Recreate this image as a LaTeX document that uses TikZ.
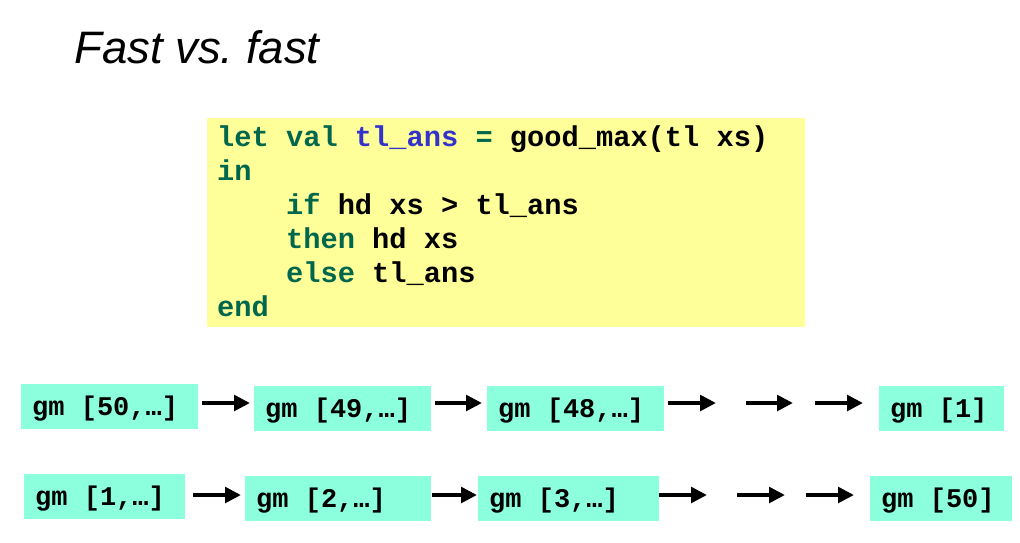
\documentclass[tikz,border=0pt]{standalone}
\usepackage{fontspec}
\usetikzlibrary{arrows.meta}
\setmainfont{Liberation Sans}
\newfontfamily\codefont{Liberation Mono}[BoldFont={Liberation Mono Bold}]
\definecolor{kwgreen}{RGB}{0,102,76}
\definecolor{idblue}{RGB}{51,51,204}
\definecolor{codeyellow}{RGB}{255,255,153}
\definecolor{callaqua}{RGB}{140,255,221}
\newcommand{\kw}[1]{\textcolor{kwgreen}{#1}}
\newcommand{\codeindent}{\hphantom{xxxx}}
\newcommand{\calltext}[2]{\makebox[#1][l]{#2}}
\tikzset{
  codeline/.style={anchor=base west, inner sep=0pt,
    font=\codefont\bfseries\fontsize{28.7}{34}\selectfont},
  callbox/.style={anchor=base west, fill=callaqua, inner xsep=11pt, inner ysep=0pt,
    text height=31pt, text depth=14pt,
    font=\codefont\bfseries\fontsize{27}{32}\selectfont},
  arr/.style={line width=4pt, -{Triangle[length=16pt,width=15.5pt]}}
}
\begin{document}
\begin{tikzpicture}[x=1pt,y=-1pt]
\useasboundingbox (0,0) rectangle (1020,542);

% title
\node[anchor=base west, inner sep=0pt, font=\itshape\fontsize{45.5}{50}\selectfont] (title) at (74,63) {Fast vs.\ fast};

% code block
\node[anchor=north west, fill=codeyellow, inner sep=0pt, minimum width=598pt, minimum height=209pt] (codebox) at (207,118) {};
\node[codeline] (l1) at (217,146) {\kw{let val} \textcolor{idblue}{tl\_ans} \kw{=} good\_max(tl xs)};
\node[codeline] (l2) at (217,180) {\kw{in}};
\node[codeline] (l3) at (217,214) {\codeindent\kw{if} hd xs > tl\_ans};
\node[codeline] (l4) at (217,248) {\codeindent\kw{then} hd xs};
\node[codeline] (l5) at (217,282) {\codeindent\kw{else} tl\_ans};
\node[codeline] (l6) at (217,316) {\kw{end}};

% first chain of calls
\node[callbox] (a1) at (21,415) {\calltext{155pt}{gm [50,…]}};
\node[callbox] (a2) at (254,417) {\calltext{155pt}{gm [49,…]}};
\node[callbox] (a3) at (487,417) {\calltext{155pt}{gm [48,…]}};
\node[callbox] (a4) at (879,417) {\calltext{103pt}{gm [1]}};
\coordinate (a3e) at (716,403);
\coordinate (amid1) at (746,403);
\coordinate (amid2) at (793,403);
\coordinate (amid3) at (815,403);
\draw[arr] ([xshift=4pt,yshift=12pt]a1.base east) -- ([xshift=-4pt,yshift=14pt]a2.base west);
\draw[arr] ([xshift=4pt,yshift=14pt]a2.base east) -- ([xshift=-5pt,yshift=14pt]a3.base west);
\draw[arr] ([xshift=4pt,yshift=14pt]a3.base east) -- (a3e);
\draw[arr] (amid1) -- (amid2);
\draw[arr] (amid3) -- ([xshift=-16pt,yshift=14pt]a4.base west);

% second chain of calls
\node[callbox] (b1) at (24,505) {\calltext{139pt}{gm [1,…]}};
\node[callbox] (b2) at (245,507) {\calltext{164pt}{gm [2,…]}};
\node[callbox] (b3) at (478,507) {\calltext{159pt}{gm [3,…]}};
\node[callbox] (b4) at (870,507) {\calltext{120pt}{gm [50]}};
\coordinate (b3e) at (707,495);
\coordinate (bmid1) at (737,495);
\coordinate (bmid2) at (785,495);
\coordinate (bmid3) at (806,495);
\draw[arr] ([xshift=8pt,yshift=10pt]b1.base east) -- ([xshift=-4pt,yshift=12pt]b2.base west);
\draw[arr] ([xshift=1pt,yshift=12pt]b2.base east) -- ([xshift=-1pt,yshift=12pt]b3.base west);
\draw[arr] ([yshift=12pt]b3.base east) -- (b3e);
\draw[arr] (bmid1) -- (bmid2);
\draw[arr] (bmid3) -- ([xshift=-16pt,yshift=12pt]b4.base west);
\end{tikzpicture}
\end{document}
